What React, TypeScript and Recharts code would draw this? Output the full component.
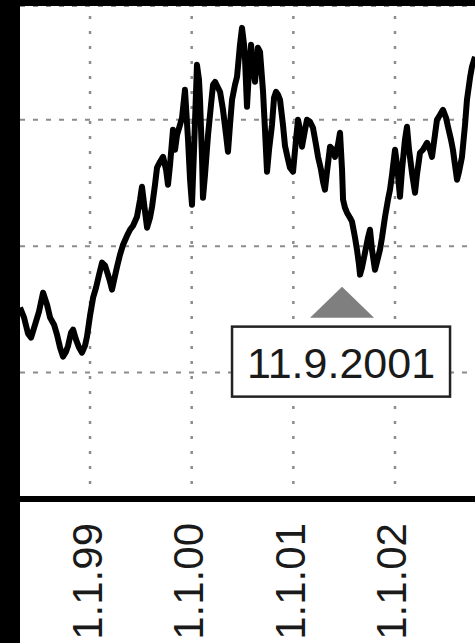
import { LineChart, Line, XAxis, YAxis, CartesianGrid, ReferenceDot, ReferenceLine } from 'recharts';

// time as decimal year, value in index points
const years = [
  1998.311, 1998.351, 1998.39, 1998.42, 1998.459, 1998.498, 1998.538, 1998.577, 1998.607, 1998.646,
  1998.675, 1998.705, 1998.734, 1998.764, 1998.784, 1998.813, 1998.833, 1998.862, 1998.892, 1998.921,
  1998.951, 1998.97, 1999.0, 1999.03, 1999.059, 1999.089, 1999.118, 1999.148, 1999.167, 1999.197,
  1999.216, 1999.246, 1999.266, 1999.295, 1999.325, 1999.364, 1999.393, 1999.423, 1999.462, 1999.492,
  1999.511, 1999.541, 1999.561, 1999.59, 1999.61, 1999.639, 1999.659, 1999.689, 1999.718, 1999.748,
  1999.767, 1999.787, 1999.816, 1999.836, 1999.856, 1999.885, 1999.905, 1999.934, 1999.964, 1999.984,
  2000.003, 2000.023, 2000.052, 2000.072, 2000.082, 2000.102, 2000.111, 2000.131, 2000.161, 2000.19,
  2000.21, 2000.23, 2000.259, 2000.279, 2000.308, 2000.338, 2000.357, 2000.377, 2000.397, 2000.426,
  2000.446, 2000.475, 2000.495, 2000.515, 2000.525, 2000.544, 2000.564, 2000.584, 2000.603, 2000.623,
  2000.652, 2000.672, 2000.702, 2000.721, 2000.741, 2000.761, 2000.79, 2000.81, 2000.83, 2000.849,
  2000.869, 2000.898, 2000.918, 2000.948, 2000.967, 2000.997, 2001.026, 2001.046, 2001.066, 2001.085,
  2001.115, 2001.134, 2001.164, 2001.193, 2001.223, 2001.243, 2001.272, 2001.292, 2001.311, 2001.331,
  2001.361, 2001.39, 2001.41, 2001.439, 2001.459, 2001.479, 2001.489, 2001.508, 2001.528, 2001.557,
  2001.577, 2001.607, 2001.626, 2001.646, 2001.656, 2001.675, 2001.705, 2001.734, 2001.754, 2001.774,
  2001.803, 2001.823, 2001.852, 2001.872, 2001.902, 2001.931, 2001.951, 2001.971, 2002.0, 2002.02,
  2002.049, 2002.069, 2002.098, 2002.118, 2002.138, 2002.167, 2002.197, 2002.216, 2002.246, 2002.275,
  2002.315, 2002.344, 2002.364, 2002.393, 2002.413, 2002.443, 2002.472, 2002.502, 2002.521, 2002.551,
  2002.57, 2002.59, 2002.61, 2002.63, 2002.659, 2002.689, 2002.708, 2002.738, 2002.757, 2002.787,
];

const values = [
  3514, 3435, 3308, 3277, 3379, 3482, 3632, 3538, 3435, 3379,
  3300, 3198, 3126, 3166, 3213, 3316, 3340, 3261, 3198, 3158,
  3213, 3285, 3451, 3593, 3672, 3775, 3870, 3846, 3798, 3719,
  3656, 3767, 3838, 3933, 4012, 4083, 4130, 4162, 4233, 4368,
  4470, 4273, 4146, 4225, 4312, 4486, 4621, 4668, 4707, 4605,
  4486, 4644, 4921, 4763, 4881, 4960, 5016, 5237, 4842, 4526,
  4328, 4763, 5435, 5316, 5158, 4684, 4383, 4565, 4881, 5119,
  5277, 5300, 5253, 5221, 5079, 4881, 4747, 4960, 5158, 5277,
  5340, 5593, 5727, 5593, 5474, 5103, 5395, 5593, 5435, 5300,
  5569, 5538, 5221, 4921, 4589, 4763, 4960, 5174, 5221, 5198,
  5158, 4960, 4794, 4684, 4621, 4589, 4842, 5000, 4921, 4787,
  4921, 5000, 4984, 4937, 4802, 4707, 4605, 4510, 4447, 4589,
  4787, 4763, 4707, 4802, 4897, 4605, 4368, 4304, 4265, 4225,
  4194, 4067, 3972, 3854, 3775, 3830, 3949, 4067, 4130, 3972,
  3814, 3877, 3972, 4067, 4233, 4368, 4447, 4565, 4763, 4644,
  4391, 4605, 4842, 4945, 4763, 4581, 4423, 4565, 4739, 4763,
  4818, 4763, 4707, 4881, 5000, 5039, 5079, 5016, 4945, 4842,
  4763, 4644, 4526, 4589, 4707, 4960, 5158, 5332, 5419, 5498,
];

const tickYears = [1999, 2000, 2001, 2002];
const tickLabels = ['1.1.99', '1.1.00', '1.1.01', '1.1.02'];
const gridValues = [3000, 4000, 5000];

const eventLabel = '11.9.2001';
const eventMarker = { t: 2001.479, v: 3680 };

const data = years.map((t, i) => ({ t, v: values[i] }));

const FONT = '"Liberation Sans", Arial, sans-serif';

function YearTick(props: any) {
  const { x, y, payload } = props;
  const idx = tickYears.indexOf(payload.value);
  const tx = x - 3;
  const ty = y + 24;
  return (
    <text
      x={tx}
      y={ty}
      transform={`rotate(-90 ${tx} ${ty})`}
      textAnchor="end"
      dominantBaseline="central"
      fontFamily={FONT}
      fontSize={42}
      fill="#1a1a1a"
    >
      {idx >= 0 ? tickLabels[idx] : payload.value}
    </text>
  );
}

function EventMarker(props: any) {
  const { cx, cy } = props;
  return (
    <g>
      <polygon
        points={`${cx},${cy} ${cx - 32},${cy + 31} ${cx + 32},${cy + 31}`}
        fill="#7f7f7f"
      />
      <rect
        x={cx - 110}
        y={cy + 40}
        width={218}
        height={70}
        fill="#fff"
        stroke="#222"
        strokeWidth={2.5}
      />
      <text
        x={cx - 1}
        y={cy + 91}
        textAnchor="middle"
        fontFamily={FONT}
        fontSize={43}
        fill="#1a1a1a"
      >
        {eventLabel}
      </text>
    </g>
  );
}

export default function App() {
  return (
    <div style={{ position: 'absolute', left: 0, top: 0, width: 475, height: 643, background: '#000', overflow: 'hidden' }}>
      <div style={{ position: 'absolute', left: 20, top: 6, width: 455, height: 637, background: '#fff' }}>
        <LineChart width={455} height={637} data={data} margin={{ top: 0, right: 0, left: 0, bottom: 0 }}>
          <CartesianGrid
            vertical={false}
            stroke="#8c8c8c"
            strokeWidth={2}
            strokeDasharray="5 8"
          />
          {tickYears.map((yr) => (
            <ReferenceLine
              key={yr}
              x={yr}
              stroke="#8c8c8c"
              strokeWidth={2.5}
              strokeDasharray="3 12"
            />
          ))}
          <XAxis
            dataKey="t"
            type="number"
            domain={[1998.311, 2002.787]}
            ticks={tickYears}
            height={144}
            tickLine={false}
            tickSize={0}
            tickMargin={0}
            axisLine={{ stroke: '#000', strokeWidth: 6 }}
            tick={<YearTick />}
            interval={0}
          />
          <YAxis hide domain={[2000, 5900]} ticks={gridValues} type="number" />
          <Line
            dataKey="v"
            type="linear"
            stroke="#000"
            strokeWidth={6}
            strokeLinejoin="round"
            dot={false}
            isAnimationActive={false}
          />
          <ReferenceDot x={eventMarker.t} y={eventMarker.v} shape={<EventMarker />} />
        </LineChart>
      </div>
    </div>
  );
}
